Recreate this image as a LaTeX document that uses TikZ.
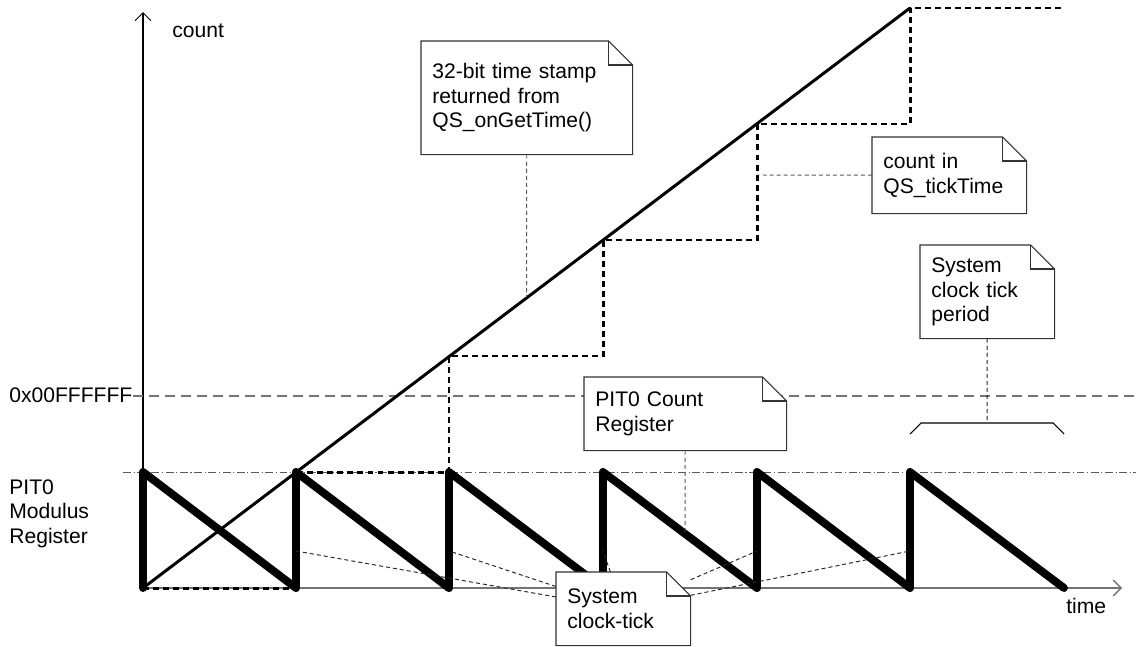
\documentclass[tikz,border=0pt]{standalone}
\usepackage{fontspec}
\setmainfont{Liberation Sans}
\usetikzlibrary{arrows.meta}

\pgfdeclarelayer{graph}
\pgfdeclarelayer{paper}
\pgfsetlayers{graph,paper,main}

% white sheet with a folded corner behind a note node
\newcommand{\notepaper}[1]{%
  \begin{pgfonlayer}{paper}
    \draw[notepen, fill=white] (#1.south west) -- (#1.north west)
      -- ([xshift=-0.48cm]#1.north east) -- ([yshift=-0.48cm]#1.north east)
      -- (#1.south east) -- cycle;
    \draw[notepen] ([xshift=-0.48cm]#1.north east) |- ([yshift=-0.48cm]#1.north east);
  \end{pgfonlayer}}

\tikzset{
  notepen/.style={draw=black!80, line width=0.6pt},
  note/.style={rectangle, anchor=north west, inner xsep=0.22cm, inner ysep=0pt, align=left},
  leader/.style={draw=black!85, line width=0.55pt, dash pattern=on 2.3pt off 1.7pt},
  axisline/.style={line width=0.6pt, -{Straight Barb[length=1.6mm, width=3.2mm]}},
  sawtooth/.style={line width=4.5pt, line join=round, line cap=round},
  stairs/.style={line width=1.7pt, dash pattern=on 3.4pt off 2.3pt},
  plain/.style={inner sep=0pt}
}

\begin{document}
\begin{tikzpicture}[x=0.02cm, y=-0.02cm, font=\fontsize{12}{14}\selectfont]
    \useasboundingbox (0,0) rectangle (1136,646);

    % Points on the waveforms
    \coordinate (origin) at (143,588);
    \coordinate (top) at (910,8);
    \coordinate (stamppt) at (526.5,297);
    \coordinate (tickcount) at (757,175);
    \coordinate (periodmid) at (987,423);
    \coordinate (countpt) at (685,534);
    \foreach \x [count=\i] in {296,449,603,757,910}
        \coordinate (reset\i) at (\x,551);

    \begin{pgfonlayer}{graph}
    % Draw the axes
    \draw[axisline, black] (origin) -- (143,12);
    \draw[axisline, black!55, line width=0.75pt] (origin) -- (1122,588);

    % Reference levels
    \draw[black!55, line width=0.85pt, dash pattern=on 5.7pt off 3.4pt] (133,396) -- (1136,396);
    \draw[black!65, line width=0.5pt, dash pattern=on 4.5pt off 1.5pt on 0.6pt off 1.5pt] (123,472) -- (1136,472);

    % Draw the PIT0 count register
    \draw[sawtooth] (origin) -- (143,472) -- (296,588) -- (296,472) -- (449,588)
        -- (449,472) -- (603,588) -- (603,472) -- (757,588) -- (757,472)
        -- (910,588) -- (910,472) -- (1064,588);

    % Draw the time stamp and the tick counter
    \draw[line width=1.7pt] (origin) -- (top);
    \draw[stairs] (origin) -- (296,588) -- (296,472) -- (449,472) -- (449,356)
        -- (603,356) -- (603,240) -- (757,240) -- (757,124) -- (910,124)
        -- (top) -- (1065,8);

    % Bracket for one tick period
    \draw[line width=0.6pt] (910,434) -- (921,423) -- (1053,423) -- (1064,434);
    \end{pgfonlayer}

    % Place the axis labels
    \node[plain, anchor=base west] (countlbl) at (172,37) {count};
    \node[plain, anchor=base west] (timelbl) at (1066,613) {time};
    \node[plain, anchor=base west] (fflbl) at (9,402) {0x00FFFFFF};
    \node[plain, anchor=north west, align=left] (modlbl) at (9,479) {PIT0\\Modulus\\Register};

    % Place the notes
    \node[note, text width=3.78cm, minimum height=2.26cm] (stampnote) at (421,41)
        {32-bit time stamp\\returned from\\QS\_onGetTime()};
    \node[note, text width=2.64cm, minimum height=1.52cm] (ticktimenote) at (872,137)
        {count in\\QS\_tickTime};
    \node[note, text width=2.24cm, minimum height=1.86cm] (periodnote) at (920,245)
        {System\\clock tick\\period};
    \node[note, text width=3.6cm, minimum height=1.46cm] (countnote) at (584,377)
        {PIT0 Count\\Register};
    \node[note, text width=2.24cm, minimum height=1.46cm] (ticknote) at (556,572)
        {System\\clock-tick};

    \notepaper{stampnote}
    \notepaper{ticktimenote}
    \notepaper{periodnote}
    \notepaper{countnote}
    \notepaper{ticknote}

    % Draw the leaders
    \begin{pgfonlayer}{graph}
    \draw[leader, black!65] (stampnote) -- (stamppt);
    \draw[leader, black!65] (ticktimenote) -- (tickcount);
    \draw[leader] (periodnote) -- (periodmid);
    \draw[leader, black!65] (countnote) -- (countpt);
    \foreach \i in {1,...,5}
        \draw[leader] (ticknote) -- (reset\i);
    \end{pgfonlayer}
\end{tikzpicture}
\end{document}
